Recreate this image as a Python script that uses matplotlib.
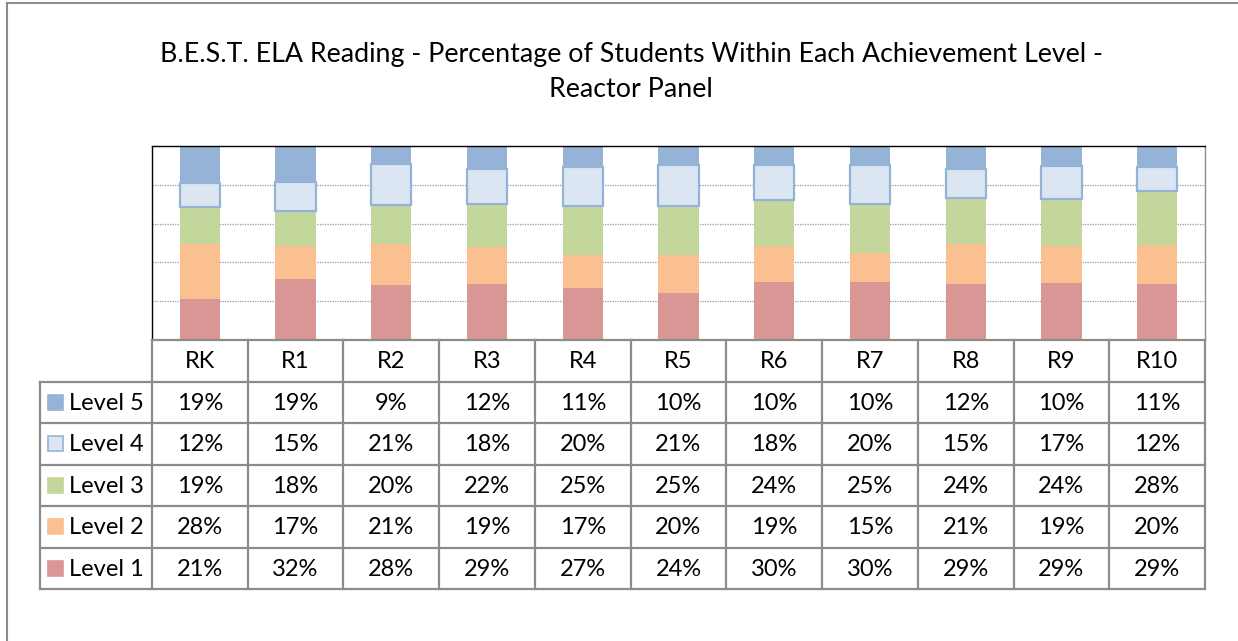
import numpy as np
import matplotlib
matplotlib.use("Agg")
import matplotlib.pyplot as plt
from matplotlib.lines import Line2D
from matplotlib.patches import Rectangle

plt.rcParams['font.family'] = ['Lato', 'DejaVu Sans']

categories = ["RK", "R1", "R2", "R3", "R4", "R5", "R6", "R7", "R8", "R9", "R10"]
level_names = ["Level 5", "Level 4", "Level 3", "Level 2", "Level 1"]
level5 = [19, 19, 9, 12, 11, 10, 10, 10, 12, 10, 11]
level4 = [12, 15, 21, 18, 20, 21, 18, 20, 15, 17, 12]
level3 = [19, 18, 20, 22, 25, 25, 24, 25, 24, 24, 28]
level2 = [28, 17, 21, 19, 17, 20, 19, 15, 21, 19, 20]
level1 = [21, 32, 28, 29, 27, 24, 30, 30, 29, 29, 29]

colors = {"Level 5": "#95B3D7", "Level 4": "#DCE6F2", "Level 3": "#C3D69B",
          "Level 2": "#FAC090", "Level 1": "#D99694"}
edge4 = "#95B3D7"
grid_col = "#8c8c8c"

W, H = 1238, 641
fig = plt.figure(figsize=(W / 100, H / 100), dpi=100)

def px_rect(l, t, r, b):
    return [l / W, 1 - b / H, (r - l) / W, (b - t) / H]

# outer frame
fig.add_artist(Line2D([7 / W, 7 / W], [0, 1 - 3 / H], color="#8c8c8c", lw=1.5))
fig.add_artist(Line2D([7 / W, 1], [1 - 3 / H, 1 - 3 / H], color="#8c8c8c", lw=1.5))

fig.text(631 / W, 1 - 42 / H,
         "B.E.S.T. ELA Reading - Percentage of Students Within Each Achievement Level -\nReactor Panel",
         ha="center", va="top", fontsize=19.3, linespacing=1.5)

# stacked 100% bars
ax = fig.add_axes(px_rect(152, 146, 1205, 340))
data = np.array([level1, level2, level3, level4, level5], dtype=float)
shares = data / data.sum(axis=0) * 100
x = np.arange(len(categories))
bottom = np.zeros(len(categories))
order = ["Level 1", "Level 2", "Level 3", "Level 4", "Level 5"]
for name, vals in zip(order, shares):
    if name == "Level 4":
        ax.bar(x, vals, 0.42, bottom=bottom, color=colors[name], edgecolor=edge4,
               linewidth=1.6, zorder=3)
    else:
        ax.bar(x, vals, 0.42, bottom=bottom, color=colors[name], linewidth=0, zorder=2)
    bottom += vals
ax.set_xlim(-0.5, len(categories) - 0.5)
ax.set_ylim(0, 100)
ax.set_yticks([20, 40, 60, 80])
ax.yaxis.grid(True, linestyle=(0, (1, 1)), color="#9a9a9a", lw=0.9)
ax.set_axisbelow(True)
ax.tick_params(left=False, bottom=False, labelleft=False, labelbottom=False)
ax.spines["left"].set_color("black")
ax.spines["top"].set_color("black")
ax.spines["right"].set_color(grid_col)
ax.spines["bottom"].set_visible(False)
for s in ["left", "top", "right"]:
    ax.spines[s].set_linewidth(1.0)

# data table underneath
colw = (1205 - 152) / len(categories)
lab_w = (152 - 40) / colw
tax = fig.add_axes(px_rect(40, 340, 1205, 589))
tax.set_xlim(-lab_w, len(categories))
tax.set_ylim(6, 0)
tax.axis("off")
lw = 1.6
fs = 17
tax.plot([0, len(categories)], [0, 0], color=grid_col, lw=lw, clip_on=False)
for r in range(1, 7):
    tax.plot([-lab_w, len(categories)], [r, r], color=grid_col, lw=lw, clip_on=False)
for c in range(0, len(categories) + 1):
    tax.plot([c, c], [0, 6], color=grid_col, lw=lw, clip_on=False)
tax.plot([-lab_w, -lab_w], [1, 6], color=grid_col, lw=lw, clip_on=False)

for c, cat in enumerate(categories):
    tax.text(c + 0.5, 0.52, cat, ha="center", va="center", fontsize=fs)

rows = [level5, level4, level3, level2, level1]
sq = 15 / colw
for r, (name, vals) in enumerate(zip(level_names, rows)):
    yc = r + 1.5
    ec = edge4 if name == "Level 4" else colors[name]
    tax.add_patch(Rectangle((-lab_w + 8 / colw, yc - 0.18), sq, 0.36,
                            facecolor=colors[name], edgecolor=ec, lw=1.2, clip_on=False))
    tax.text(-lab_w + 29 / colw, yc + 0.02, name, ha="left", va="center", fontsize=fs)
    for c, v in enumerate(vals):
        tax.text(c + 0.5, yc + 0.02, f"{v}%", ha="center", va="center", fontsize=fs)

fig.savefig("out.png", dpi=100)
